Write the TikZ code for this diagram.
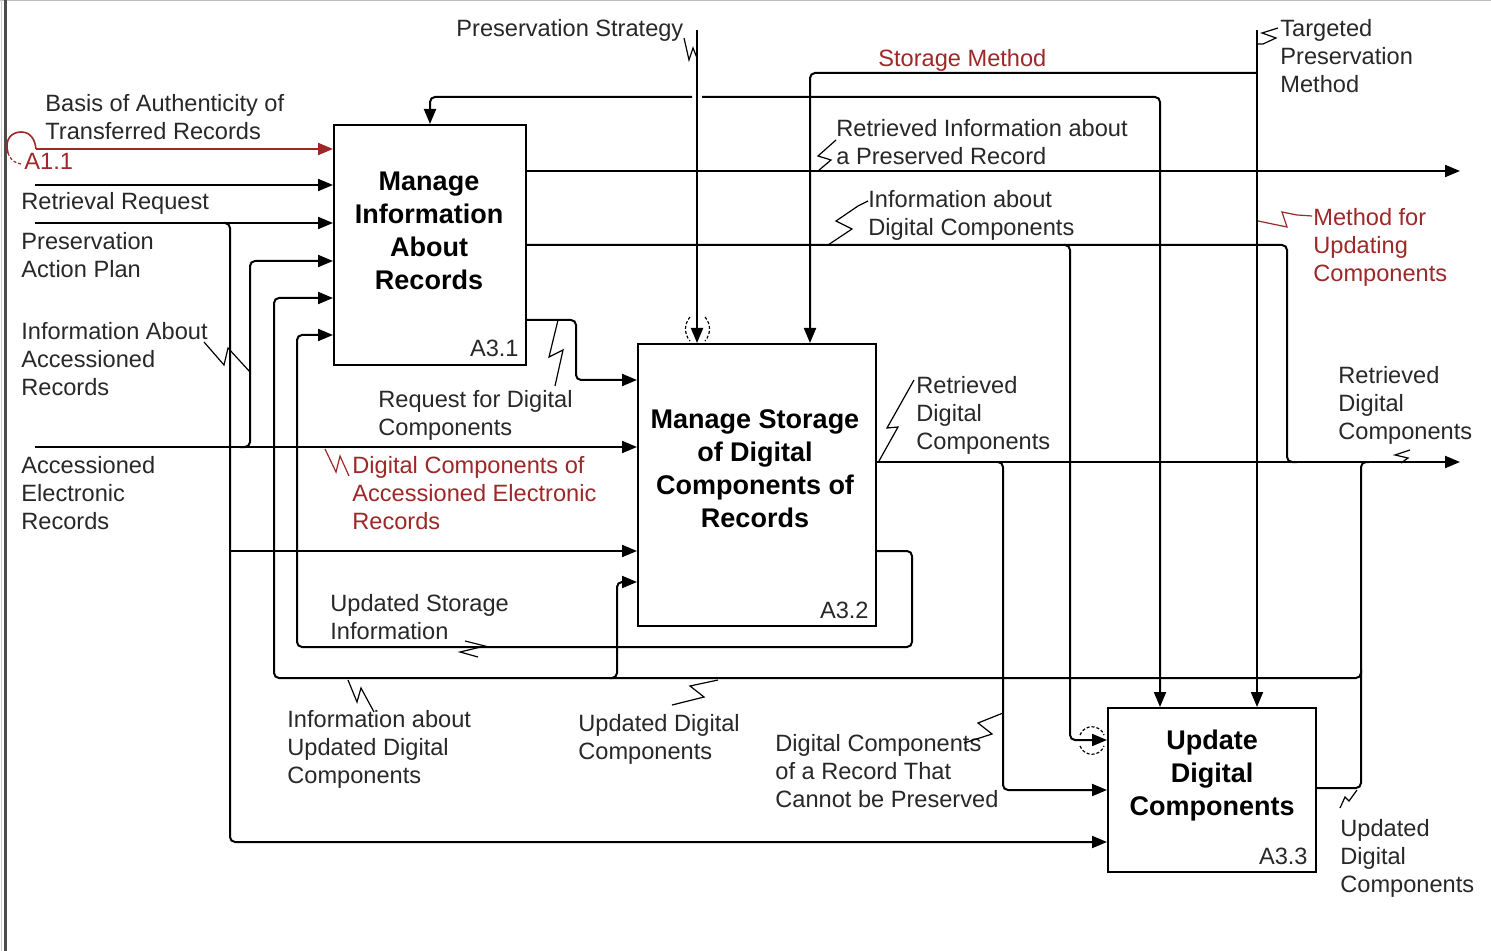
\documentclass[tikz,border=0pt]{standalone}
\usepackage{fontspec}
\setmainfont{Liberation Sans}
\usetikzlibrary{arrows.meta}
\definecolor{idefred}{RGB}{158,40,40}
\definecolor{labelgray}{RGB}{40,40,40}

\begin{document}
\begin{tikzpicture}[x=0.5pt,y=-0.5pt,
  flow/.style={line width=1pt, rounded corners=2.5pt},
  arr/.style={flow, -{Triangle[length=7.5pt,width=6pt]}},
  squig/.style={line width=0.6pt},
  tunnel/.style={line width=0.6pt, dash pattern=on 1.5pt off 1pt},
  lbl/.style={anchor=north west, inner sep=0pt, align=left, font=\fontsize{11.8}{14}\selectfont, text=labelgray},
  rlbl/.style={lbl, text=idefred},
  activity/.style={draw, line width=1pt, inner sep=0pt},
  title/.style={inner sep=0pt, align=center, font=\fontsize{13.5}{16.5}\selectfont\bfseries},
  boxid/.style={anchor=south east, inner sep=0pt, font=\fontsize{11.8}{14}\selectfont, text=labelgray},
]
\useasboundingbox (0,0) rectangle (1491,951);
\fill[white] (0,0) rectangle (1491,951);
% page frame
\draw[gray!50, line width=0.5pt] (0,0.5) -- (1491,0.5);
\draw[black!70, line width=1.5pt] (5,0) -- (5,951);
\draw[gray!40, line width=0.5pt] (1,0) -- (1,951);

% activity boxes
\node[activity, minimum width=96pt, minimum height=120pt] (b1) at (430,245) {};
\node[activity, minimum width=119pt, minimum height=141pt] (b2) at (757,485) {};
\node[activity, minimum width=104pt, minimum height=82pt] (b3) at (1212,790) {};
\node[title] (t1) at (429,231) {Manage\\Information\\About\\Records};
\node[title] (t2) at (755,469) {Manage Storage\\of Digital\\Components of\\Records};
\node[title] (t3) at (1212,776) {Update\\Digital\\Components};
\node[boxid] (id1) at ([xshift=-4pt,yshift=4.5pt]b1.south east) {A3.1};
\node[boxid] (id2) at ([xshift=-4pt,yshift=4pt]b2.south east) {A3.2};
\node[boxid] (id3) at ([xshift=-4.5pt,yshift=4pt]b3.south east) {A3.3};

% boundary points
\coordinate (inBasis) at (36,149);
\coordinate (inReq) at (35,185);
\coordinate (inPlan) at (35,223);
\coordinate (inAcc) at (35,447);
\coordinate (ctlStrat) at (697,30);
\coordinate (ctlTarget) at (1257,30);
\coordinate (outInfo) at (1460,171);
\coordinate (outDig) at (1460,462);

% inputs from the left
\draw[arr, idefred] (inBasis) -- (inBasis -| b1.west);
\draw[arr] (inReq) -- (inReq -| b1.west);
\draw[arr] (inPlan) -- (inPlan -| b1.west);
\draw[arr] (224,223) -| (230,842) -- (b3.west |- 0,842);
\draw[arr] (230,551) -- (b2.west |- 0,551);
\draw[arr] (inAcc) -- (inAcc -| b2.west);
\draw[arr] (240,447) -| (250,261) -- (b1.west |- 0,261);

% tunnel mark on the authenticity input
\draw[idefred, line width=0.8pt] (8,153) .. controls (4,139) and (12,132) .. (21,132) .. controls (31,132) and (35,140) .. (36,149);
\draw[idefred, tunnel] (8,153) .. controls (10,159) and (14,163) .. (21,164);

% controls from the top
\draw[arr] (ctlStrat) -- (ctlStrat |- b2.north);
\draw[arr] (692,97) -| (b1.north);
\draw[arr] (702,97) -| (1160,0 |- b3.north);
\draw[arr] (ctlTarget) -- (ctlTarget |- b3.north);
\draw[arr] (1257,73) -| (810,0 |- b2.north);
\draw[tunnel] (690,317) .. controls (684,324) and (684,334) .. (690,341);
\draw[tunnel] (705,317) .. controls (711,324) and (711,334) .. (705,341);

% outputs of A3.1
\draw[arr] (b1.east |- outInfo) -- (outInfo);
\draw[flow] (b1.east |- 0,245) -- (1287,245) -- (1287,462) -- (1297,462);
\draw[arr] (1064,245) -| (1070,740) -- (b3.west |- 0,740);
\draw[tunnel] (1080,735) .. controls (1084,724) and (1100,724) .. (1104,735);
\draw[tunnel] (1080,746) .. controls (1084,757) and (1100,757) .. (1104,746);
\draw[arr] (b1.east |- 0,320) -| (576,380) -- (b2.west |- 0,380);

% outputs of A3.2
\draw[arr] (b2.east |- outDig) -- (outDig);
\draw[arr] (997,462) -| (1003,790) -- (b3.west |- 0,790);
\draw[arr] (b2.east |- 0,551) -- (912,551) -- (912,647) -- (297,647) -- (297,335) -- (b1.west |- 0,335);

% outputs of A3.3
\draw[flow] (b3.east |- 0,788) -- (1361,788) -- (1361,462) -- (1369,462);
\draw[arr] (1361,670) -- (1361,678) -- (274,678) -- (274,298) -- (b1.west |- 0,298);
\draw[arr] (610,678) -| (617,582) -- (b2.west |- 0,582);

% labels
\node[lbl] (lStrat) at (456,19) {Preservation Strategy};
\node[rlbl] (lStore) at (878,49) {Storage Method};
\node[lbl] (lTarget) at (1280,19) {Targeted\\Preservation\\Method};
\node[lbl] (lBasis) at (45,94) {Basis of Authenticity of\\Transferred Records};
\node[rlbl] (lA11) at (24,153) {A1.1};
\node[lbl] (lReq) at (21,192) {Retrieval Request};
\node[lbl] (lPlan) at (21,232) {Preservation\\Action Plan};
\node[lbl] (lAccInfo) at (21,322) {Information About\\Accessioned\\Records};
\node[lbl] (lAcc) at (21,456) {Accessioned\\Electronic\\Records};
\node[lbl] (lRetInfo) at (836,119) {Retrieved Information about\\a Preserved Record};
\node[lbl] (lDigInfo) at (868,190) {Information about\\Digital Components};
\node[rlbl] (lMethod) at (1313,208) {Method for\\Updating\\Components};
\node[lbl] (lReqDig) at (378,390) {Request for Digital\\Components};
\node[rlbl] (lDigAcc) at (352,456) {Digital Components of\\Accessioned Electronic\\Records};
\node[lbl] (lRet1) at (916,376) {Retrieved\\Digital\\Components};
\node[lbl] (lRet2) at (1338,366) {Retrieved\\Digital\\Components};
\node[lbl] (lStorUpd) at (330,594) {Updated Storage\\Information};
\node[lbl] (lInfoUpd) at (287,710) {Information about\\Updated Digital\\Components};
\node[lbl] (lUpd1) at (578,714) {Updated Digital\\Components};
\node[lbl] (lCannot) at (775,734) {Digital Components\\of a Record That\\Cannot be Preserved};
\node[lbl] (lUpd2) at (1340,819) {Updated\\Digital\\Components};

% label leaders
\draw[squig] (684,38) -- (689,60) -- (693,48) -- (697,58);
\draw[squig] (1278,28) -- (1262,33) -- (1276,38) -- (1263,44) -- (1257,44);
\draw[squig, idefred] (1258,221) -- (1287,227) -- (1282,212) -- (1297,215) -- (1312,216);
\draw[squig] (818,171) -- (831,160) -- (818,156) -- (836,140);
\draw[squig] (828,245) -- (852,229) -- (836,221) -- (858,206) -- (868,201);
\draw[squig] (555,386) -- (563,350) -- (549,357) -- (558,320);
\draw[squig] (204,342) -- (224,365) -- (228,348) -- (250,372);
\draw[squig, idefred] (325,449) -- (336,472) -- (340,456) -- (349,476);
\draw[squig] (879,461) -- (898,427) -- (887,428) -- (914,380);
\draw[squig] (465,641) -- (485,646) -- (460,652) -- (478,657);
\draw[squig] (348,680) -- (357,702) -- (361,688) -- (374,712);
\draw[squig] (718,680) -- (690,686) -- (704,697) -- (672,705);
\draw[squig] (1003,713) -- (978,723) -- (992,734) -- (964,743);
\draw[squig] (1410,450) -- (1395,455) -- (1408,458) -- (1401,463);
\draw[squig] (1357,790) -- (1349,801) -- (1345,797) -- (1340,808);
\end{tikzpicture}
\end{document}
